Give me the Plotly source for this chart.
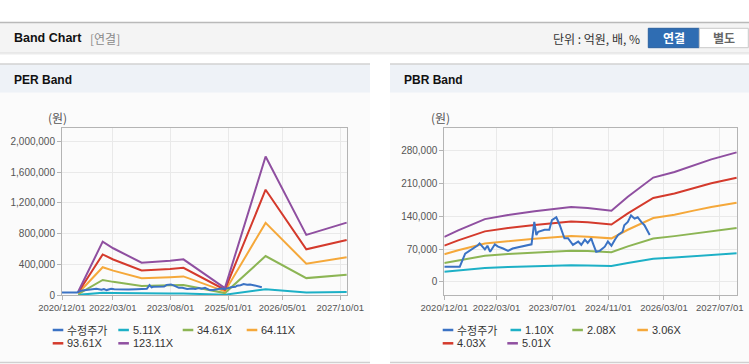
import plotly.graph_objects as go

W, H = 749, 364

# ---------------- data ----------------
price_dates = ["2020-12-01", "2021-04-15", "2021-06-01", "2021-07-25", "2021-09-20", "2021-10-05",
               "2021-11-20", "2021-12-12", "2022-01-05", "2022-02-15", "2022-03-15", "2022-04-28",
               "2022-06-10", "2022-07-20", "2022-10-01", "2022-11-18", "2023-01-01", "2023-01-25",
               "2023-02-12", "2023-02-28", "2023-04-25", "2023-06-05", "2023-06-28", "2023-08-05",
               "2023-09-03", "2023-10-15", "2023-11-15", "2023-12-28", "2024-02-12", "2024-03-10",
               "2024-04-10", "2024-05-05", "2024-06-05", "2024-06-18", "2024-07-18", "2024-08-18",
               "2024-10-01", "2024-10-28", "2024-11-28", "2024-12-28", "2025-01-25", "2025-03-05",
               "2025-03-20", "2025-04-20", "2025-05-18", "2025-06-18", "2025-07-15", "2025-08-15",
               "2025-09-12", "2025-10-28"]
price_values = [32000, 32000, 60000, 68000, 78000, 82000,
                69000, 77000, 64000, 80000, 75000, 71000,
                66000, 71000, 75000, 79000, 80000, 128000,
                100000, 107000, 111000, 111000, 132000, 138000,
                122000, 93000, 93000, 79000, 86000, 79000,
                90000, 83000, 93000, 83000, 64000, 66000,
                75000, 86000, 77000, 90000, 100000, 107000,
                121000, 128000, 142000, 135000, 138000, 128000,
                121000, 100000]

per_dates = ["2021-04-25", "2021-12-01", "2022-03-05", "2022-11-15", "2023-07-28", "2023-11-25",
             "2024-12-01", "2025-12-01", "2026-12-01", "2027-11-28"]
per_5_11 = [1800, 28800, 25300, 17500, 18600, 19300, 3700, 74900, 32500, 39100]
per_34_61 = [12100, 195400, 171200, 118300, 125600, 130700, 25300, 507100, 220100, 265100]
per_64_11 = [22400, 362000, 317200, 219300, 232800, 242200, 46900, 939500, 407800, 491100]
per_93_61 = [32700, 528500, 463100, 320100, 339900, 353600, 68400, 1371800, 595400, 717100]
per_123_11 = [43000, 695000, 609000, 421000, 447000, 465000, 90000, 1804000, 783000, 943000]

pbr_dates = ["2020-12-01", "2021-04-01", "2021-11-20", "2022-06-10", "2023-01-28", "2023-12-12",
             "2024-05-05", "2024-11-28", "2025-04-20", "2025-11-28", "2026-06-01", "2026-11-25",
             "2027-04-18", "2027-11-25"]
pbr_1_10 = [21100, 24200, 29400, 31400, 33200, 35100, 34700, 33400, 40000, 49000, 51600, 54900, 57500, 60800]
pbr_2_08 = [39900, 45700, 55600, 59400, 62700, 66400, 65600, 63100, 75600, 92600, 97600, 103800, 108800, 115000]
pbr_3_06 = [58600, 67200, 81900, 87300, 92200, 97700, 96500, 92800, 111200, 136200, 143500, 152700, 160000, 169200]
pbr_4_03 = [77200, 88500, 107800, 115000, 121500, 128700, 127100, 122300, 146400, 179400, 189000, 201100, 210800, 222800]
pbr_5_01 = [96000, 110000, 134000, 143000, 151000, 160000, 158000, 152000, 182000, 223000, 235000, 250000, 262000, 277000]

per_names = ["수정주가", "5.11X", "34.61X", "64.11X", "93.61X", "123.11X"]
pbr_names = ["수정주가", "1.10X", "2.08X", "3.06X", "4.03X", "5.01X"]

per_tickvals = ["2020-12-01", "2022-03-01", "2023-08-01", "2025-01-01", "2026-05-01", "2027-10-01"]
per_ticktext = ["2020/12/01", "2022/03/01", "2023/08/01", "2025/01/01", "2026/05/01", "2027/10/01"]
pbr_tickvals = ["2020-12-01", "2022-03-01", "2023-07-01", "2024-11-01", "2026-03-01", "2027-07-01"]
pbr_ticktext = ["2020/12/01", "2022/03/01", "2023/07/01", "2024/11/01", "2026/03/01", "2027/07/01"]

colors = ["#3a72c4", "#1db0c6", "#8cb554", "#f5a83a", "#d43a2c", "#8f4fa0"]

# ---------------- helpers ----------------
def px(x):
    return x / W

def py(y):
    return 1 - y / H

LAT = "Liberation Sans, Arial, sans-serif"
KR = "Noto Sans CJK KR, sans-serif"
BOLD = "Liberation Sans, Arial, sans-serif"

fig = go.Figure()

per_series = [(price_dates, price_values), (per_dates, per_5_11), (per_dates, per_34_61),
              (per_dates, per_64_11), (per_dates, per_93_61), (per_dates, per_123_11)]
pbr_series = [(price_dates, price_values), (pbr_dates, pbr_1_10), (pbr_dates, pbr_2_08),
              (pbr_dates, pbr_3_06), (pbr_dates, pbr_4_03), (pbr_dates, pbr_5_01)]

order = [1, 2, 3, 4, 5, 0]
for i in order:
    d, v = per_series[i]
    fig.add_trace(go.Scatter(x=d, y=v, mode="lines", name=per_names[i],
                             line=dict(color=colors[i], width=2),
                             xaxis="x", yaxis="y", showlegend=False))
for i in order:
    d, v = pbr_series[i]
    fig.add_trace(go.Scatter(x=d, y=v, mode="lines", name=pbr_names[i],
                             line=dict(color=colors[i], width=2),
                             xaxis="x2", yaxis="y2", showlegend=False))

axis_common = dict(showline=True, mirror=True, linecolor="#b4b4b4", linewidth=1,
                   showgrid=True, gridcolor="#e9e9e9", gridwidth=1,
                   ticks="outside", ticklen=4, tickcolor="#b4b4b4",
                   zeroline=False, fixedrange=True, automargin=False)
xfont = dict(family=LAT, size=9.5, color="#555555")
yfont = dict(family=LAT, size=10, color="#555555")

ydom = [py(295), py(128.3)]
fig.update_layout(
    template="none",
    width=W, height=H, autosize=False,
    margin=dict(l=0, r=0, t=0, b=0, pad=0, autoexpand=False),
    paper_bgcolor="white", plot_bgcolor="white",
    xaxis=dict(domain=[px(62), px(347)], type="date",
               range=["2020-12-01", "2027-12-01"],
               tickmode="array", tickvals=per_tickvals, ticktext=per_ticktext,
               tickangle=0, tickfont=xfont, anchor="y", **axis_common),
    yaxis=dict(domain=ydom, range=[0, 2172000], tickmode="linear", tick0=0, dtick=400000,
               tickformat=",d", tickfont=yfont, anchor="x", **axis_common),
    xaxis2=dict(domain=[px(444.3), px(737.3)], type="date",
                range=["2020-12-01", "2027-12-01"],
                tickmode="array", tickvals=pbr_tickvals, ticktext=pbr_ticktext,
                tickangle=0, tickfont=xfont, anchor="y2", **axis_common),
    yaxis2=dict(domain=ydom, range=[-28500, 328500], tickmode="linear", tick0=0, dtick=70000,
                tickformat=",d", tickfont=yfont, anchor="x2", **axis_common),
    showlegend=False,
)

shapes = []
annotations = []

def rect(x0, y0, x1, y1, fill, line=None, lw=0):
    shapes.append(dict(type="rect", xref="paper", yref="paper",
                       x0=px(x0), x1=px(x1), y0=py(y1), y1=py(y0),
                       fillcolor=fill, line=dict(color=line or fill, width=lw), layer="below"))

def hline(x0, x1, y, color, w=1):
    shapes.append(dict(type="line", xref="paper", yref="paper",
                       x0=px(x0), x1=px(x1), y0=py(y), y1=py(y),
                       line=dict(color=color, width=w), layer="below"))

def text(x, y, s, size=12, color="#333333", family=KR, xanchor="left", bold=False):
    if bold:
        s = "<b>" + s + "</b>"
    annotations.append(dict(x=px(x), y=py(y), xref="paper", yref="paper", text=s,
                            showarrow=False, xanchor=xanchor, yanchor="middle",
                            font=dict(size=size, color=color, family=family)))

# top header bar
rect(0, 22.5, 749, 52.5, "#f4f4f4")
hline(0, 749, 22.5, "#b9b9b9", 1.5)
hline(0, 749, 53, "#d6d6d6", 1)
hline(0, 749, 54, "#ececec", 1)
text(12, 38, "Band Chart", 12.5, "#111111", BOLD, bold=True)
text(88, 38.5, "[연결]", 12, "#8a8a8a", KR)
text(641.5, 39, "단위 : 억원, 배, %", 12, "#333333", KR, xanchor="right")
rect(648.3, 28.3, 699.3, 47.7, "#2f6db3", "#2a619f", 1)
text(673.8, 38, "연결", 12, "white", KR, xanchor="center", bold=True)
rect(699.3, 28.3, 748.3, 47.7, "#ffffff", "#c8c8c8", 1)
text(723.8, 38, "별도", 12, "#666666", KR, xanchor="center", bold=True)

# panels
for (x0, x1, title) in [(0, 370, "PER Band"), (390, 749, "PBR Band")]:
    rect(x0, 64, x1, 92.7, "#eef2f7")
    hline(x0, x1, 64, "#d2d2d2", 1.5)
    rect(x0, 92.7, x1, 362, "#fbfbfb")
    hline(x0, x1, 362.5, "#d0d0d0", 1.5)
    text(x0 + 12, 79.5, title, 12, "#111111", BOLD, bold=True)

# unit labels
text(57, 118, "(원)", 12, "#555555", KR, xanchor="center")
text(440, 118, "(원)", 12, "#555555", KR, xanchor="center")

# legends
def legend_item(x_line, y, name, color):
    hline(x_line, x_line + 10.6, y, color, 2.5)
    fam = KR if name == "수정주가" else LAT
    text(x_line + 12.5, y, name, 11, "#333333", fam)

per_leg = [(52.7, 330), (118.3, 330), (182.7, 330), (246.7, 330), (52.7, 343.3), (118.3, 343.3)]
pbr_leg = [(442.7, 330), (510.5, 330), (572.3, 330), (637.3, 330), (442.7, 343.3), (507.3, 343.3)]
for i in range(6):
    legend_item(per_leg[i][0], per_leg[i][1], per_names[i], colors[i])
    legend_item(pbr_leg[i][0], pbr_leg[i][1], pbr_names[i], colors[i])

fig.update_layout(shapes=shapes, annotations=annotations)
fig.write_html("out.html",
               config={"displayModeBar": False},
               post_script="document.body.style.margin='0';document.body.style.overflow='hidden';")
